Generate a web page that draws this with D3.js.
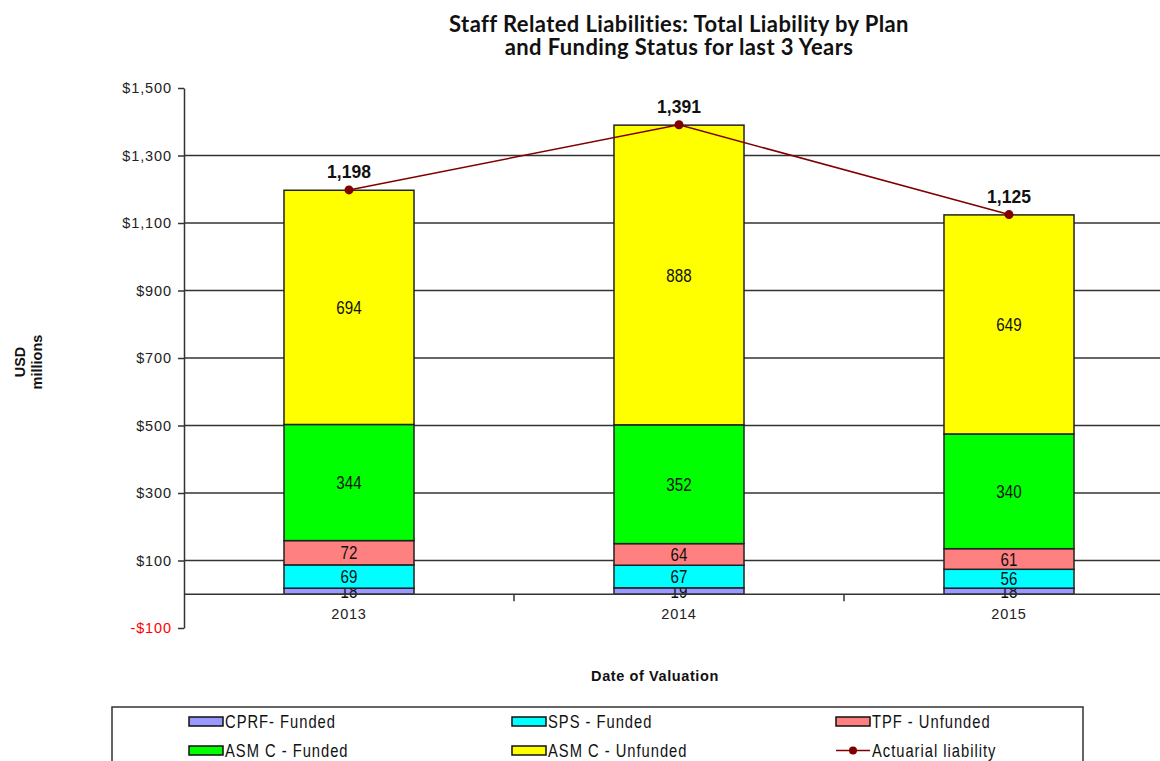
<!DOCTYPE html>
<html>
<head>
<meta charset="utf-8">
<script src="https://cdn.jsdelivr.net/npm/d3@7"></script>
<style>
  body { margin: 0; background: #fff; }
  svg { display: block; }
</style>
</head>
<body>
<div id='chart'></div>
<script>

// Data
const years = ['2013', '2014', '2015'];
const cprfFunded = [18, 19, 18];
const spsFunded = [69, 67, 56];
const tpfUnfunded = [72, 64, 61];
const asmcFunded = [344, 352, 340];
const asmcUnfunded = [694, 888, 649];
const actuarialLiability = [1198, 1391, 1125];
const seriesNames = ['CPRF- Funded', 'SPS - Funded', 'TPF - Unfunded', 'ASM C - Funded', 'ASM C - Unfunded'];
const lineName = 'Actuarial liability';
const yTicks = [-100, 100, 300, 500, 700, 900, 1100, 1300, 1500];
const gridTicks = [100, 300, 500, 700, 900, 1100, 1300];

// Page dimensions
const width = 1160;
const height = 761;
const plot = {left: 184, right: 1174, top: 88, bottom: 628};

// Colours
const colors = ['#9999ff', '#00ffff', '#ff8080', '#00ff00', '#ffff00'];
const lineColor = '#800000';
const axisColor = '#333333';
const mainFont = '"Liberation Sans", Arial, sans-serif';
// no narrow face installed, so squeeze the regular one
const NARROW = 0.82;

const svg = d3.select('div#chart').append('svg')
  .attr('width', width)
  .attr('height', height);

// Scales
const x = d3.scaleBand()
  .domain(years)
  .range([plot.left, plot.right])
  .paddingInner(0.606)
  .paddingOuter(0.303);

const y = d3.scaleLinear()
  .domain([-100, 1500])
  .range([plot.bottom, plot.top]);

// Stack rows
const rows = years.map((yr, i) => ({
  year: yr,
  s0: cprfFunded[i], s1: spsFunded[i], s2: tpfUnfunded[i], s3: asmcFunded[i], s4: asmcUnfunded[i]
}));
const keys = ['s0', 's1', 's2', 's3', 's4'];
const stacked = d3.stack().keys(keys)(rows);

// Title
svg.append('text')
  .attr('x', 679)
  .attr('y', 32)
  .attr('text-anchor', 'middle')
  .attr('font-family', 'Lato, "Open Sans", sans-serif')
  .attr('font-weight', 'bold')
  .attr('font-size', 22)
  .attr('letter-spacing', 0.4)
  .attr('fill', '#111')
  .selectAll('tspan')
  .data(['Staff Related Liabilities: Total Liability by Plan', 'and Funding Status for last 3 Years'])
  .enter()
  .append('tspan')
  .attr('x', 679)
  .attr('dy', (d, i) => i === 0 ? 0 : 23)
  .text(d => d);

// Gridlines
svg.append('g')
  .selectAll('line')
  .data(gridTicks)
  .enter()
  .append('line')
  .attr('x1', plot.left)
  .attr('x2', width)
  .attr('y1', d => y(d))
  .attr('y2', d => y(d))
  .style('stroke', axisColor)
  .style('stroke-width', 1.3);

// Y axis
const yAxis = svg.append('g')
  .attr('transform', `translate(${plot.left},0)`)
  .call(d3.axisLeft(y)
    .tickValues(yTicks)
    .tickSize(6)
    .tickSizeOuter(0)
    .tickFormat(d => d < 0 ? '-$' + d3.format(',')(-d) : '$' + d3.format(',')(d)));
yAxis.select('.domain').style('stroke', axisColor).style('stroke-width', 1.5);
yAxis.selectAll('.tick line').style('stroke', axisColor).style('stroke-width', 1.5);
yAxis.selectAll('.tick text')
  .attr('x', -12)
  .attr('font-family', mainFont)
  .attr('font-size', 14.5)
  .attr('letter-spacing', 0.9)
  .attr('fill', d => d < 0 ? '#ff0000' : '#222');

// Y axis title
svg.append('text')
  .attr('transform', 'translate(29,362) rotate(-90)')
  .attr('text-anchor', 'middle')
  .attr('font-family', mainFont)
  .attr('font-weight', 'bold')
  .attr('font-size', 14.5)
  .attr('fill', '#111')
  .selectAll('tspan')
  .data(['USD', 'millions'])
  .enter()
  .append('tspan')
  .attr('x', 0)
  .attr('dy', (d, i) => i === 0 ? -4 : 17)
  .text(d => d);

// Bars
const layers = svg.append('g')
  .selectAll('g')
  .data(stacked)
  .enter()
  .append('g')
  .style('fill', (d, i) => colors[i]);

layers.selectAll('rect')
  .data(d => d)
  .enter()
  .append('rect')
  .attr('x', d => x(d.data.year))
  .attr('width', x.bandwidth())
  .attr('y', d => y(d[1]))
  .attr('height', d => y(d[0]) - y(d[1]))
  .style('stroke', '#222')
  .style('stroke-width', 1.5);

// X axis (zero line)
svg.append('line')
  .attr('x1', plot.left)
  .attr('x2', width)
  .attr('y1', y(0))
  .attr('y2', y(0))
  .style('stroke', axisColor)
  .style('stroke-width', 1.5);

const boundaries = years.map(yr => x(yr) - x.step() * x.paddingInner() / 2 + x.step());
svg.append('g')
  .selectAll('line')
  .data(boundaries)
  .enter()
  .append('line')
  .attr('x1', d => d)
  .attr('x2', d => d)
  .attr('y1', y(0))
  .attr('y2', y(0) + 7)
  .style('stroke', axisColor)
  .style('stroke-width', 1.5);

svg.append('g')
  .selectAll('text')
  .data(years)
  .enter()
  .append('text')
  .attr('x', d => x(d) + x.bandwidth() / 2)
  .attr('y', 619)
  .attr('text-anchor', 'middle')
  .attr('font-family', mainFont)
  .attr('font-size', 14.5)
  .attr('letter-spacing', 0.8)
  .attr('fill', '#222')
  .text(d => d);

// Segment labels
layers.selectAll('text')
  .data(d => d)
  .enter()
  .append('text')
  .attr('transform', d => `translate(${x(d.data.year) + x.bandwidth() / 2},${(y(d[0]) + y(d[1])) / 2}) scale(${NARROW},1)`)
  .attr('dy', '0.36em')
  .attr('text-anchor', 'middle')
  .attr('font-family', mainFont)
  .attr('font-size', 18.5)
  .style('fill', '#111')
  .text(d => d[1] - d[0]);

// Actuarial liability line
const lineData = years.map((yr, i) => ({year: yr, value: actuarialLiability[i]}));
const line = d3.line()
  .x(d => x(d.year) + x.bandwidth() / 2)
  .y(d => y(d.value));

svg.append('path')
  .datum(lineData)
  .attr('d', line)
  .style('fill', 'none')
  .style('stroke', lineColor)
  .style('stroke-width', 1.5);

svg.append('g')
  .selectAll('circle')
  .data(lineData)
  .enter()
  .append('circle')
  .attr('cx', d => x(d.year) + x.bandwidth() / 2)
  .attr('cy', d => y(d.value))
  .attr('r', 4.5)
  .style('fill', lineColor);

svg.append('g')
  .selectAll('text')
  .data(lineData)
  .enter()
  .append('text')
  .attr('x', d => x(d.year) + x.bandwidth() / 2)
  .attr('y', d => y(d.value) - 12)
  .attr('text-anchor', 'middle')
  .attr('font-family', mainFont)
  .attr('font-weight', 'bold')
  .attr('font-size', 17.5)
  .attr('fill', '#111')
  .text(d => d3.format(',')(d.value));

// X axis title
svg.append('text')
  .attr('x', 655)
  .attr('y', 681)
  .attr('text-anchor', 'middle')
  .attr('font-family', mainFont)
  .attr('font-weight', 'bold')
  .attr('font-size', 14.5)
  .attr('letter-spacing', 0.6)
  .attr('fill', '#111')
  .text('Date of Valuation');

// Legend
svg.append('rect')
  .attr('x', 112)
  .attr('y', 707)
  .attr('width', 971)
  .attr('height', 80)
  .style('fill', 'none')
  .style('stroke', axisColor)
  .style('stroke-width', 1.5);

const legendItems = seriesNames.map((name, i) => ({name: name, color: colors[i], kind: 'rect'}))
  .concat([{name: lineName, color: lineColor, kind: 'line'}]);
const colX = [189, 512, 836];
const rowY = [721.5, 750.5];

const legend = svg.append('g')
  .selectAll('g')
  .data(legendItems)
  .enter()
  .append('g')
  .attr('transform', (d, i) => `translate(${colX[i % 3]},${rowY[Math.floor(i / 3)]})`);

legend.filter(d => d.kind === 'rect')
  .append('rect')
  .attr('x', 0)
  .attr('y', -4.5)
  .attr('width', 34)
  .attr('height', 9)
  .style('fill', d => d.color)
  .style('stroke', '#111')
  .style('stroke-width', 1.5);

legend.filter(d => d.kind === 'line')
  .append('line')
  .attr('x1', 0)
  .attr('x2', 34)
  .style('stroke', lineColor)
  .style('stroke-width', 1.5);

legend.filter(d => d.kind === 'line')
  .append('circle')
  .attr('cx', 17)
  .attr('r', 4)
  .style('fill', lineColor);

legend.append('text')
  .attr('transform', `translate(36,6.5) scale(${NARROW},1)`)
  .attr('font-family', mainFont)
  .attr('font-size', 18)
  .attr('letter-spacing', 1.2)
  .attr('fill', '#111')
  .text(d => d.name);

</script>
</body>
</html>
